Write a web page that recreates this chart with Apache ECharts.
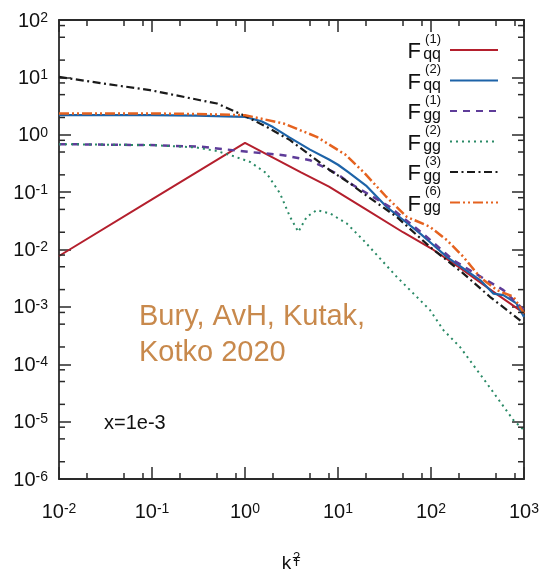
<!DOCTYPE html>
<html>
<head>
<meta charset="utf-8">
<script src="https://cdn.jsdelivr.net/npm/echarts@6/dist/echarts.min.js"></script>
<style>
html,body{margin:0;padding:0;background:#fff;}
#chart{width:543px;height:569px;}
</style>
</head>
<body>
<div id="chart"></div>
<script>
// ---- axis ranges & ticks ----
const X_MIN = 0.01, X_MAX = 1000;
const Y_MIN = 1e-6, Y_MAX = 100;
const xMinorTicks = [0.02,0.05,0.08, 0.2,0.5,0.8, 2,5,8, 20,50,80, 200,500,800];
const yMinorTicks = [2e-6,5e-6,8e-6, 2e-5,5e-5,8e-5, 2e-4,5e-4,8e-4, 2e-3,5e-3,8e-3,
                     0.02,0.05,0.08, 0.2,0.5,0.8, 2,5,8, 20,50,80];

// ---- legend text parts ----
const seriesNames = ['Fqq1','Fqq2','Fgg1','Fgg2','Fgg3','Fgg6'];
const legendSup = ['(1)','(2)','(1)','(2)','(3)','(6)'];
const legendSub = ['qq','qq','gg','gg','gg','gg'];

// ---- series values [k_T^2, F] ----
const Fqq1 = [[0.01,0.0077],[0.1,0.075],[1,0.72],[2,0.40],[4,0.22],[8,0.125],[20,0.05],
              [50,0.02],[100,0.0105],[200,0.0049],[500,0.0017],[1000,0.00078]];
const Fqq2 = [[0.01,2.19],[0.03,2.2],[0.1,2.2],[0.3,2.15],[1,2.05],[1.5,1.72],[2,1.36],[3,0.9],
              [5,0.55],[8,0.37],[10,0.30],[13,0.22],[20,0.13],[33,0.056],[50,0.033],[75,0.0195],
              [100,0.013],[150,0.0073],[200,0.0053],[340,0.0029],[470,0.0017],[600,0.0016],
              [830,0.00115],[1000,0.00067]];
const Fgg1 = [[0.01,0.686],[0.095,0.66],[0.33,0.62],[0.5,0.577],[1.13,0.50],[2.58,0.44],[5.0,0.36],
              [9.7,0.21],[13.5,0.142],[36,0.0555],[90,0.0166],[174,0.0065],[397,0.0029],
              [600,0.00196],[1000,0.00088]];
const Fgg2 = [[0.01,0.686],[0.1,0.66],[0.3,0.6],[0.5,0.52],[0.7,0.44],[1.13,0.337],[1.71,0.212],
              [2.38,0.095],[3.05,0.037],[3.74,0.0203],[4.6,0.037],[5.9,0.0485],[8.2,0.0426],
              [12.4,0.0285],[18.7,0.0146],[42.8,0.00334],[97.5,0.00088],[136,0.000394],
              [205,0.0002],[400,4.6e-5],[767,1.07e-5],[1000,7.1e-6]];
const Fgg3 = [[0.01,10.2],[0.03,7.8],[0.095,6.0],[0.33,4.0],[0.5,3.5],[0.96,2.19],[1.71,1.37],
              [3.05,0.805],[5.9,0.36],[8.2,0.24],[13.5,0.142],[18.7,0.095],[42.8,0.037],
              [97.5,0.0111],[222,0.00384],[430,0.0015],[1000,0.000515]];
const Fgg6 = [[0.01,2.35],[0.1,2.35],[0.3,2.3],[1,2.19],[2.6,1.57],[5.9,0.92],[12,0.45],[19,0.22],
              [33,0.083],[55,0.037],[97,0.025],[148,0.0146],[222,0.0075],[336,0.0033],
              [510,0.00196],[770,0.0015],[1000,0.00077]];

const FONT = 'Liberation Sans';
const AXIS_COLOR = '#2a2a2a';

function expLabel(v){
  const e = Math.round(Math.log10(v));
  return '{b|10}{s|' + e + '}';
}
const labelRich = {
  b: {fontSize: 20, lineHeight: 20, fontFamily: FONT, color: '#111'},
  s: {fontSize: 14, lineHeight: 10, verticalAlign: 'top', fontFamily: FONT, color: '#111'}
};

function logAxis(extra){
  return Object.assign({
    type: 'log',
    logBase: 10,
    axisLine: {show: true, onZero: false, lineStyle: {color: AXIS_COLOR, width: 1.8}},
    axisTick: {show: true, inside: true, length: 12, lineStyle: {color: AXIS_COLOR, width: 1.5}},
    splitLine: {show: false},
    minorTick: {show: false},
  }, extra);
}

const chart = echarts.init(document.getElementById('chart'), null, {renderer: 'canvas'});

function tickSeries(values, isX){
  return {
    type: 'custom',
    xAxisIndex: 0, yAxisIndex: 0,
    silent: true,
    clip: false,
    z: 5,
    data: values.map(v => isX ? [v, Y_MIN] : [X_MIN, v]),
    renderItem: function(params, api){
      const L = 6;
      const st = {stroke: AXIS_COLOR, lineWidth: 1.5};
      if (isX) {
        const v = api.value(0);
        const pb = api.coord([v, Y_MIN]);
        const pt = api.coord([v, Y_MAX]);
        return {type: 'group', children: [
          {type: 'line', shape: {x1: pb[0], y1: pb[1], x2: pb[0], y2: pb[1] - L}, style: st},
          {type: 'line', shape: {x1: pt[0], y1: pt[1], x2: pt[0], y2: pt[1] + L}, style: st}
        ]};
      } else {
        const v = api.value(1);
        const pl = api.coord([X_MIN, v]);
        const pr = api.coord([X_MAX, v]);
        return {type: 'group', children: [
          {type: 'line', shape: {x1: pl[0], y1: pl[1], x2: pl[0] + L, y2: pl[1]}, style: st},
          {type: 'line', shape: {x1: pr[0], y1: pr[1], x2: pr[0] - L, y2: pr[1]}, style: st}
        ]};
      }
    }
  };
}

function lineSeries(name, data, color, width, type){
  return {
    name: name, type: 'line', data: data,
    xAxisIndex: 0, yAxisIndex: 0,
    symbol: 'none', showSymbol: false, smooth: false,
    lineStyle: {color: color, width: width, type: type, cap: 'butt'},
    itemStyle: {color: color},
    emphasis: {disabled: true},
    z: 3
  };
}

const option = {
  backgroundColor: '#ffffff',
  animation: false,
  grid: {left: 59, right: 19, top: 20, bottom: 90, containLabel: false, outerBoundsMode: 'none'},
  xAxis: [
    logAxis({
      min: X_MIN, max: X_MAX, splitNumber: 5, position: 'bottom',
      axisLabel: {show: true, margin: 23, formatter: expLabel, rich: labelRich,
                  showMinLabel: true, showMaxLabel: true, hideOverlap: false},
      name: '{pad| }{sup|2}\n{k|k}{sub|T}',
      nameLocation: 'middle', nameGap: 76,
      nameTextStyle: {
        fontFamily: FONT, color: '#111',
        rich: {
          pad: {width: 10, fontSize: 13, lineHeight: 4, fontFamily: FONT},
          sup: {width: 10, fontSize: 13, lineHeight: 4, fontFamily: FONT, color: '#111'},
          k:   {width: 10, fontSize: 19, lineHeight: 10, fontFamily: FONT, color: '#111'},
          sub: {width: 10, fontSize: 13, lineHeight: 4, verticalAlign: 'bottom', fontFamily: FONT, color: '#111'}
        }
      }
    }),
    logAxis({
      min: X_MIN, max: X_MAX, splitNumber: 5, position: 'top',
      axisLabel: {show: false}
    })
  ],
  yAxis: [
    logAxis({
      min: Y_MIN, max: Y_MAX, splitNumber: 8, position: 'left',
      axisLabel: {show: true, margin: 11, formatter: expLabel, rich: labelRich,
                  padding: [2, 0, 0, 0],
                  showMinLabel: true, showMaxLabel: true, hideOverlap: false}
    }),
    logAxis({
      min: Y_MIN, max: Y_MAX, splitNumber: 8, position: 'right',
      axisLabel: {show: false}
    })
  ],
  legend: {
    data: seriesNames,
    orient: 'vertical',
    align: 'right',
    right: 44, top: 32.5,
    padding: 0,
    itemGap: 0,
    itemWidth: 48, itemHeight: 14,
    selectedMode: false,
    itemStyle: {opacity: 0, borderWidth: 0},
    formatter: function(name){
      const i = seriesNames.indexOf(name);
      return '{pad| }{sup|' + legendSup[i] + '}{gap| }\n{F|F}{sub|' + legendSub[i] + '}{gap| }';
    },
    textStyle: {
      fontFamily: FONT, color: '#111',
      rich: {
        pad: {width: 15, fontSize: 13, lineHeight: 4, fontFamily: FONT},
        sup: {width: 20, fontSize: 13, lineHeight: 4, fontFamily: FONT, color: '#111'},
        gap: {width: 4, fontSize: 13, lineHeight: 4, fontFamily: FONT},
        F:   {width: 15, fontSize: 22, lineHeight: 22, fontFamily: FONT, color: '#111'},
        sub: {width: 20, fontSize: 16, lineHeight: 14, verticalAlign: 'bottom', fontFamily: FONT, color: '#111'}
      }
    }
  },
  graphic: [
    {type: 'text', left: 139, top: 299, z: 10, silent: true,
     style: {text: 'Bury, AvH, Kutak,\nKotko 2020', fill: '#c8894c', font: '29px "Liberation Sans"', lineHeight: 36}},
    {type: 'text', left: 104, top: 413, z: 10, silent: true,
     style: {text: 'x=1e-3', fill: '#111', font: '20px "Liberation Sans"', lineHeight: 20}}
  ],
  series: [
    lineSeries('Fqq1', Fqq1, '#b41f2d', 2, 'solid'),
    lineSeries('Fqq2', Fqq2, '#1d63a8', 2.2, 'solid'),
    lineSeries('Fgg1', Fgg1, '#5e3c99', 2.5, [7, 6]),
    lineSeries('Fgg2', Fgg2, '#2a8a66', 2, [2, 4]),
    lineSeries('Fgg3', Fgg3, '#1a1a1a', 2.2, [8, 3.5, 2, 3.5]),
    lineSeries('Fgg6', Fgg6, '#e5621f', 2.5, [10, 3, 2, 3, 2, 3]),
    tickSeries(xMinorTicks, true),
    tickSeries(yMinorTicks, false)
  ]
};
chart.setOption(option);
</script>
</body>
</html>
